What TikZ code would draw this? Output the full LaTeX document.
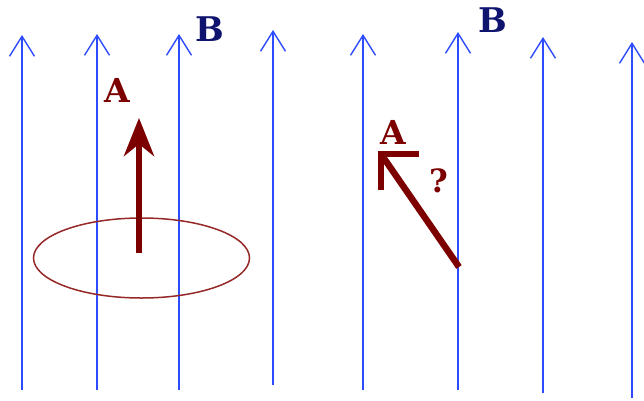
\documentclass[tikz,border=0pt]{standalone}
\usepackage{fontspec}
\setmainfont{DejaVu Serif}
\usetikzlibrary{arrows.meta}
\definecolor{fieldblue}{RGB}{45,75,255}
\definecolor{vecred}{RGB}{125,0,0}
\definecolor{ringred}{RGB}{150,40,40}
\definecolor{navyB}{RGB}{15,20,110}
\begin{document}
\begin{tikzpicture}[x=1pt,y=-1pt,
  field/.style={fieldblue, line width=1.4pt, -{Straight Barb[length=20pt,width=25pt,line width=1.4pt]}},
  vecarrow/.style={vecred, line width=6.5pt},
  lblA/.style={text=vecred, inner sep=0pt, font=\bfseries\fontsize{33}{33}\selectfont},
  lblB/.style={text=navyB, inner sep=0pt, font=\bfseries\fontsize{34}{34}\selectfont},
  lblQ/.style={text=vecred, inner sep=0pt, font=\bfseries\fontsize{32}{32}\selectfont}]
\useasboundingbox (0,0) rectangle (644,400);
% field lines
\foreach \i/\x/\t/\b in {1/22/35/390, 2/97/34/390, 3/179/34/390, 4/273/30/385,
                         5/363/34/390, 6/458/32/390, 7/543/37/393, 8/632/42/398} {
  \coordinate (f\i b) at (\x,\b);
  \coordinate (f\i t) at (\x,\t);
  \draw[field] (f\i b) -- (f\i t);
}
% current loop
\draw[ringred, line width=1.5pt] (141.5,258) ellipse [x radius=108pt, y radius=40pt];
% first vector
\coordinate (a1s) at (139,253);
\coordinate (a1t) at (139,118);
\draw[vecarrow, -{Stealth[length=38pt,width=30pt,inset=12pt]}] (a1s) -- (a1t);
% second vector
\coordinate (a2s) at (459,267);
\coordinate (a2t) at (381,154);
\coordinate (a2r) at (419,154);
\coordinate (a2d) at (381,190);
\draw[vecarrow] (a2s) -- (a2t);
\draw[vecarrow, line cap=butt, miter limit=10] (a2r) -- (a2t) -- (a2d);
% labels
\node[lblA] (A1) at (117,90) {A};
\node[lblA] (A2) at (393,132) {A};
\node[lblQ] (Q) at (439,181) {?};
\node[lblB] (B1) at (210,29) {B};
\node[lblB] (B2) at (493,20) {B};
\end{tikzpicture}
\end{document}
